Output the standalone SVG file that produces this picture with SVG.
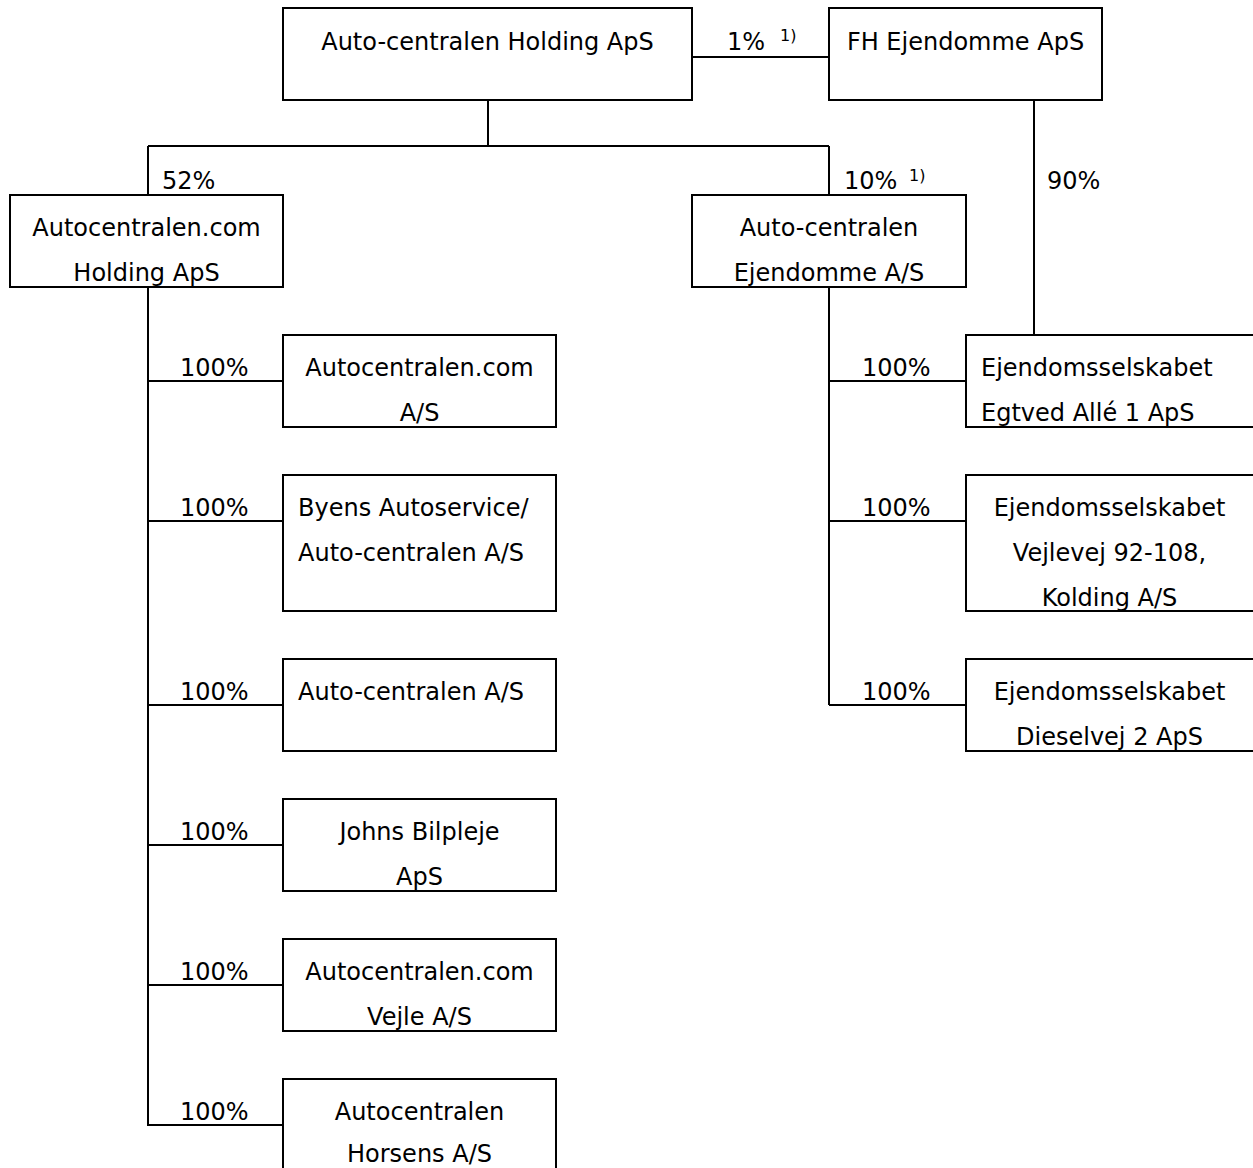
<svg xmlns="http://www.w3.org/2000/svg" width="1253" height="1168" viewBox="0 0 1253 1168">
<style>
.b{fill:#fff;stroke:#000;stroke-width:2}
.c{fill:none;stroke:#000;stroke-width:2}
text{font-family:"DejaVu Sans",Verdana,sans-serif;font-size:24px;fill:#000}
.m{text-anchor:middle}
.s{font-size:16px}
</style>
<rect width="1253" height="1168" fill="#fff"/>
<g id="connectors">
<path class="c" d="M692 57H829M488 100V146M148 146H829M148 146V195M829 146V195M1034 100V335"/>
<path class="c" d="M148 287V1126M148 381H283M148 521H283M148 705H283M148 845H283M148 985H283M148 1125H283"/>
<path class="c" d="M829 287V705M829 381H966M829 521H966M829 705H966"/>
<text x="727" y="50">1%</text><text class="s" x="780" y="41">1)</text>
<text x="162" y="189">52%</text>
<text x="844" y="189">10%</text><text class="s" x="909" y="181">1)</text>
<text x="1047" y="189">90%</text>
<text x="180" y="376">100%</text>
<text x="180" y="516">100%</text>
<text x="180" y="700">100%</text>
<text x="180" y="840">100%</text>
<text x="180" y="980">100%</text>
<text x="180" y="1120">100%</text>
<text x="862" y="376">100%</text>
<text x="862" y="516">100%</text>
<text x="862" y="700">100%</text>
</g>
<g id="n_holding"><rect class="b" x="283" y="8" width="409" height="92"/><text class="m" x="487.5" y="50">Auto-centralen Holding ApS</text></g>
<g id="n_fh"><rect class="b" x="829" y="8" width="273" height="92"/><text class="m" x="965.5" y="50">FH Ejendomme ApS</text></g>
<g id="n_comholding"><rect class="b" x="10" y="195" width="273" height="92"/><text class="m" x="146.5" y="236">Autocentralen.com</text><text class="m" x="146.5" y="281">Holding ApS</text></g>
<g id="n_ejendomme"><rect class="b" x="692" y="195" width="274" height="92"/><text class="m" x="829" y="236">Auto-centralen</text><text class="m" x="829" y="281">Ejendomme A/S</text></g>
<g id="n_com_as"><rect class="b" x="283" y="335" width="273" height="92"/><text class="m" x="419.5" y="376">Autocentralen.com</text><text class="m" x="419.5" y="421">A/S</text></g>
<g id="n_byens"><rect class="b" x="283" y="475" width="273" height="136"/><text x="298" y="516">Byens Autoservice/</text><text x="298" y="561">Auto-centralen A/S</text></g>
<g id="n_ac_as"><rect class="b" x="283" y="659" width="273" height="92"/><text x="298" y="700">Auto-centralen A/S</text></g>
<g id="n_johns"><rect class="b" x="283" y="799" width="273" height="92"/><text class="m" x="419.5" y="840">Johns Bilpleje</text><text class="m" x="419.5" y="885">ApS</text></g>
<g id="n_vejle"><rect class="b" x="283" y="939" width="273" height="92"/><text class="m" x="419.5" y="980">Autocentralen.com</text><text class="m" x="419.5" y="1025">Vejle A/S</text></g>
<g id="n_horsens"><rect class="b" x="283" y="1079" width="273" height="100"/><text class="m" x="419.5" y="1120">Autocentralen</text><text class="m" x="419.5" y="1162">Horsens A/S</text></g>
<g id="n_egtved"><rect class="b" x="966" y="335" width="290" height="92"/><text x="981" y="376">Ejendomsselskabet</text><text x="981" y="421">Egtved Allé 1 ApS</text></g>
<g id="n_vejlevej"><rect class="b" x="966" y="475" width="290" height="136"/><text class="m" x="1109.5" y="516">Ejendomsselskabet</text><text class="m" x="1109.5" y="561">Vejlevej 92-108,</text><text class="m" x="1109.5" y="606">Kolding A/S</text></g>
<g id="n_diesel"><rect class="b" x="966" y="659" width="290" height="92"/><text class="m" x="1109.5" y="700">Ejendomsselskabet</text><text class="m" x="1109.5" y="745">Dieselvej 2 ApS</text></g>
</svg>
